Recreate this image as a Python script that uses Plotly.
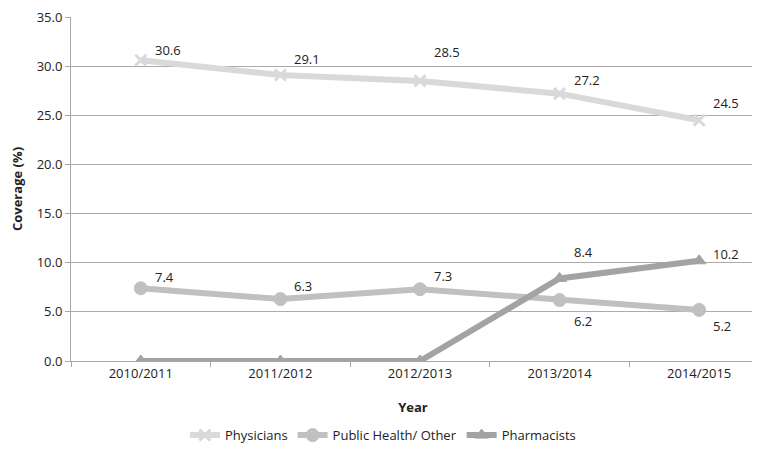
import plotly.graph_objects as go

years = ["2010/2011", "2011/2012", "2012/2013", "2013/2014", "2014/2015"]
physicians = [30.6, 29.1, 28.5, 27.2, 24.5]
public_health = [7.4, 6.3, 7.3, 6.2, 5.2]
pharmacists = [0.0, 0.0, 0.0, 8.4, 10.2]
y_ticks = [0, 5, 10, 15, 20, 25, 30, 35]

# label offsets (pixels) for data labels
phys_lab_dy = [10, 16, 29, 14, 17]
ph_lab_dy = [11, 13, 13, -21, -16]
pharm_lab_dy = [None, None, None, 26, 7]

fig = go.Figure()
series = [
    ("Physicians", physicians, "#d9d9d9", "x-thin-open", 11),
    ("Public Health/ Other", public_health, "#c0c0c0", "circle", 13),
    ("Pharmacists", pharmacists, "#a3a3a3", "triangle-up", 12),
]
for name, vals, col, sym, ms in series:
    marker = dict(symbol=sym, size=ms, color=col, line=dict(color=col, width=3 if "x" in sym else 1))
    fig.add_trace(go.Scatter(x=years, y=vals, name=name, mode="lines+markers",
                             line=dict(color=col, width=6), marker=marker))

ann = []
for vals, dys in [(physicians, phys_lab_dy), (public_health, ph_lab_dy), (pharmacists, pharm_lab_dy)]:
    for i, (v, dy) in enumerate(zip(vals, dys)):
        if dy is None:
            continue
        ann.append(dict(x=years[i], y=v, text=f"{v:.1f}", showarrow=False,
                        xanchor="left", yanchor="middle", xshift=12, yshift=dy,
                        font=dict(size=13, color="#222")))

fig.update_layout(
    width=760, height=451,
    paper_bgcolor="white", plot_bgcolor="white",
    margin=dict(l=63, r=13, t=9, b=92),
    font=dict(family="Open Sans", size=13, color="#222"),
    annotations=ann,
    showlegend=True,
    legend=dict(orientation="h", x=0.456, xanchor="center", y=-0.172, yanchor="top",
                font=dict(size=13, color="#222"), tracegroupgap=0),
    xaxis=dict(type="category", range=[-0.5, 4.4], showgrid=False, automargin=False,
               showline=True, linecolor="#a8a8a8", linewidth=1,
               ticks="outside", tickson="boundaries", ticklen=5, tickcolor="#a8a8a8",
               tickfont=dict(size=13),
               title=dict(text="<b>Year</b>", font=dict(size=13), standoff=22)),
    yaxis=dict(range=[0, 35], tickvals=y_ticks, tickformat=".1f", automargin=False,
               ticklabeloverflow="allow",
               showgrid=True, gridcolor="#ababab", gridwidth=1, zeroline=False,
               showline=True, linecolor="#a8a8a8", linewidth=1,
               ticks="outside", ticklen=5, tickcolor="#a8a8a8",
               tickfont=dict(size=13),
               title=dict(text="<b>Coverage (%)</b>", font=dict(size=13), standoff=12)),
)
fig.write_html("out.html")
